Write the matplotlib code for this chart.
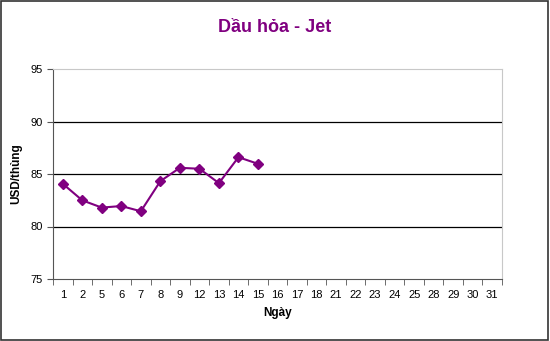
import matplotlib
matplotlib.use("Agg")
import matplotlib.pyplot as plt
from matplotlib.patches import Rectangle

days = ["1", "2", "5", "6", "7", "8", "9", "12", "13", "14", "15", "16", "17", "18",
        "21", "22", "23", "24", "25", "28", "29", "30", "31"]
prices = [84.07, 82.49, 81.8, 81.95, 81.45, 84.32, 85.59, 85.5, 84.13, 86.6, 85.97]

plt.rcParams['font.family'] = ['Liberation Sans', 'DejaVu Sans']

fig = plt.figure(figsize=(5.5, 3.41), dpi=100)
fig.patches.append(Rectangle((0.002, 0.003), 0.994, 0.993, transform=fig.transFigure,
                             fill=False, edgecolor='#333333', linewidth=1.2))

ax = fig.add_axes([53/550, 1-279/341, (502-53)/550, (279-69)/341])
n = len(days)
ax.set_xlim(-0.5, n-0.5)
ax.set_ylim(75, 95)
x = list(range(len(prices)))
ax.plot(x, prices, color='#800080', marker='D', markersize=5, linewidth=1.5, zorder=3)

for v in [80, 85, 90]:
    ax.axhline(v, color='black', linewidth=0.9, zorder=1)

ax.set_yticks([75, 80, 85, 90, 95])
ax.set_xticks(range(n))
ax.set_xticklabels(days)
ax.set_xticks([i - 0.5 for i in range(n+1)], minor=True)
ax.tick_params(axis='x', which='major', length=0, labelsize=8, pad=8, colors='black')
ax.tick_params(axis='x', which='minor', length=4, direction='out', color='#555555')
ax.tick_params(axis='y', which='major', length=4, direction='out', labelsize=8, color='#555555')

for s in ['top', 'right']:
    ax.spines[s].set_color('#c8c8c8')
for s in ['left', 'bottom']:
    ax.spines[s].set_color('#555555')

ax.set_xlabel('Ngày', fontsize=8.5, fontweight='bold', labelpad=5)
ax.set_ylabel('USD/thùng', fontsize=8.5, fontweight='bold', labelpad=6)

fig.text(0.5, 1-27/341, 'Dầu hỏa - Jet', ha='center', va='center', fontsize=13,
         fontweight='bold', color='#800080')

fig.savefig('out.png', dpi=100)
